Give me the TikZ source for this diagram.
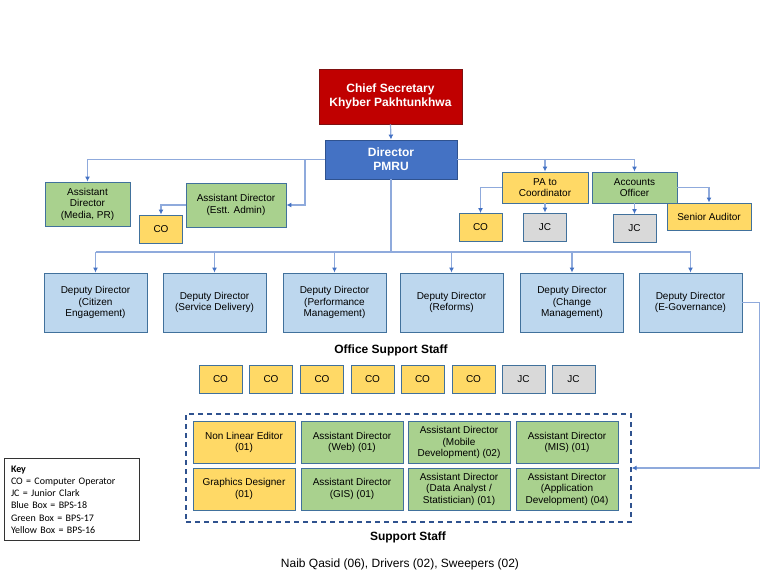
\documentclass[tikz,border=0pt]{standalone}
\usepackage{fontspec}
\setmainfont{Liberation Sans}
\newfontfamily\keyfont{Carlito}
\usetikzlibrary{shapes,arrows,positioning}
\usetikzlibrary{arrows.meta}

\definecolor{csred}{HTML}{C00000}
\definecolor{csline}{HTML}{7F1010}
\definecolor{dirblue}{HTML}{4472C4}
\definecolor{dirline}{HTML}{2F528F}
\definecolor{ddblue}{HTML}{BDD7EE}
\definecolor{grn}{HTML}{A9D18E}
\definecolor{ylw}{HTML}{FFD966}
\definecolor{gry}{HTML}{D9D9D9}
\definecolor{boxline}{HTML}{41719C}
\definecolor{conn}{HTML}{8FAADC}
\definecolor{tipblue}{HTML}{4472C4}

\begin{document}
\begin{tikzpicture}[
    x=1pt, y=-1pt,
    font=\fontsize{10}{11.5}\selectfont,
    box/.style={draw=boxline, line width=0.9pt, rectangle, inner sep=1pt, align=center},
    head/.style={box, text=white, font=\fontsize{12}{14.3}\selectfont\bfseries},
    ddbox/.style={box, fill=ddblue, minimum width=103pt, minimum height=59pt},
    smallbox/.style={box, minimum width=43pt, minimum height=28pt},
    staffbox/.style={box, minimum width=102pt, minimum height=42pt},
    line/.style={draw=conn, line width=1.2pt},
    arrow/.style={line, -{Latex[color=tipblue, length=5pt, width=5pt]}},
    title/.style={font=\fontsize{12}{14}\selectfont\bfseries}
]
\useasboundingbox (0,0) rectangle (772,574);

% ====================
%        Top
% ====================

% Nodes
\node[head, fill=csred, draw=csline, minimum width=143pt, minimum height=55pt] (chief) at (390.5, 96.5) {Chief Secretary\\Khyber Pakhtunkhwa};
\node[head, fill=dirblue, draw=dirline, minimum width=132pt, minimum height=39pt] (director) at (391, 159.5) {Director\\PMRU};

\node[box, fill=grn, minimum width=85pt, minimum height=44pt] (ad_media) at (87.5, 204) {Assistant\\Director\\(Media, PR)};
\node[box, fill=grn, minimum width=100pt, minimum height=44pt] (ad_estt) at (236, 205) {Assistant Director\\(Estt. Admin)};
\node[smallbox, fill=ylw] (estt_co) at (161, 229) {CO};

\node[box, fill=ylw, minimum width=86pt, minimum height=31pt] (pa) at (545, 187.5) {PA to\\Coordinator};
\node[smallbox, fill=ylw] (pa_co) at (480.5, 227.5) {CO};
\node[smallbox, fill=gry] (pa_jc) at (545, 227) {JC};
\node[box, fill=grn, minimum width=85pt, minimum height=31pt] (ao) at (634.5, 187.5) {Accounts\\Officer};
\node[smallbox, fill=gry] (ao_jc) at (634.5, 228.5) {JC};
\node[box, fill=ylw, minimum width=84pt, minimum height=27pt] (sen_aud) at (709, 216.5) {Senior Auditor};

% Connections
\draw[arrow] (chief.south) -- (director.north);
\draw[arrow] (director.west) -| (ad_media.north);
\coordinate (estt_tap) at (305, 159.5);
\draw[arrow] (estt_tap) |- (ad_estt.east);
\draw[arrow] (ad_estt.west) -| (estt_co.north);
\draw[arrow] (director.east) -| (pa.north);
\draw[arrow] (director.east) -| (ao.north);
\draw[arrow] (pa.west) -| (pa_co.north);
\draw[arrow] (pa.south) -- (pa_jc.north);
\draw[arrow] (ao.south) -- (ao_jc.north);
\draw[arrow] (ao.east) -| (sen_aud.north);

% ====================
%  Deputy Directors
% ====================

% Nodes
\node[ddbox] (dd_citizen) at (95.5, 302.5) {Deputy Director\\(Citizen\\Engagement)};
\node[ddbox] (dd_service) at (214.5, 302.5) {Deputy Director\\(Service Delivery)};
\node[ddbox] (dd_perf) at (334.5, 302.5) {Deputy Director\\(Performance\\Management)};
\node[ddbox] (dd_reforms) at (451.5, 302.5) {Deputy Director\\(Reforms)};
\node[ddbox] (dd_change) at (572, 302.5) {Deputy Director\\(Change\\Management)};
\node[ddbox] (dd_egov) at (690.5, 302.5) {Deputy Director\\(E-Governance)};

% Connections
\coordinate (trunk) at (391, 252);
\draw[line] (director.south) -- (trunk);
\draw[line] (dd_citizen.north |- trunk) -- (dd_egov.north |- trunk);
\draw[arrow] (dd_citizen.north |- trunk) -- (dd_citizen.north);
\draw[arrow] (dd_service.north |- trunk) -- (dd_service.north);
\draw[arrow] (dd_perf.north |- trunk) -- (dd_perf.north);
\draw[arrow] (dd_reforms.north |- trunk) -- (dd_reforms.north);
\draw[arrow] (dd_change.north |- trunk) -- (dd_change.north);
\draw[arrow] (dd_egov.north |- trunk) -- (dd_egov.north);

% ====================
% Office Support Staff
% ====================
\node[title] (office_lbl) at (391, 350) {Office Support Staff};
\node[smallbox, fill=ylw] (os_co1) at (220.5, 379) {CO};
\node[smallbox, fill=ylw] (os_co2) at (271, 379) {CO};
\node[smallbox, fill=ylw] (os_co3) at (322, 379) {CO};
\node[smallbox, fill=ylw] (os_co4) at (372.5, 379) {CO};
\node[smallbox, fill=ylw] (os_co5) at (422.5, 379) {CO};
\node[smallbox, fill=ylw] (os_co6) at (473.5, 379) {CO};
\node[smallbox, fill=gry] (os_jc1) at (523.5, 379) {JC};
\node[smallbox, fill=gry] (os_jc2) at (573.5, 379) {JC};

% ====================
%    Support Staff
% ====================
\node[draw=dirline, line width=1.2pt, dash pattern=on 5pt off 4pt, minimum width=445pt, minimum height=108pt] (support) at (408.5, 468) {};

\node[staffbox, fill=ylw] (nle) at (244, 442.5) {Non Linear Editor\\(01)};
\node[staffbox, fill=grn] (ad_web) at (352, 442.5) {Assistant Director\\(Web) (01)};
\node[staffbox, fill=grn] (ad_mobile) at (459, 442.5) {Assistant Director\\(Mobile\\Development) (02)};
\node[staffbox, fill=grn] (ad_mis) at (567, 442.5) {Assistant Director\\(MIS) (01)};
\node[staffbox, fill=ylw] (gfx) at (244, 489) {Graphics Designer\\(01)};
\node[staffbox, fill=grn] (ad_gis) at (352, 489) {Assistant Director\\(GIS) (01)};
\node[staffbox, fill=grn] (ad_data) at (459, 489) {Assistant Director\\(Data Analyst /\\Statistician) (01)};
\node[staffbox, fill=grn] (ad_app) at (567, 489) {Assistant Director\\(Application\\Development) (04)};

\draw[arrow] (dd_egov.east) -- ++(17, 0) |- (support.east);

% Labels
\node[title] (support_lbl) at (408, 537) {Support Staff};
\node[font=\fontsize{12}{14}\selectfont] (others) at (400, 564) {Naib Qasid (06), Drivers (02), Sweepers (02)};

% ====================
%        Key
% ====================
\node[draw=black!80, line width=0.9pt, minimum width=135pt, minimum height=81pt, text width=121pt, align=left, inner sep=7pt, font=\keyfont\fontsize{10}{12.2}\selectfont] (key) at (71.5, 499.5) {\textbf{Key}\\CO = Computer Operator\\JC = Junior Clark\\Blue Box = BPS-18\\Green Box = BPS-17\\Yellow Box = BPS-16};

\end{tikzpicture}
\end{document}
